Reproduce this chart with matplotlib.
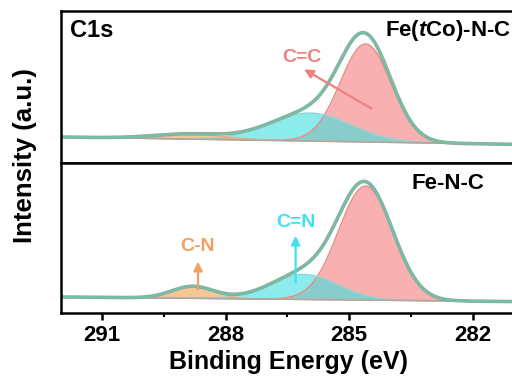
import numpy as np
import matplotlib.pyplot as plt
from matplotlib.ticker import MultipleLocator

plt.rcParams['font.family'] = 'Liberation Sans'
plt.rcParams['font.weight'] = 'bold'
plt.rcParams['mathtext.fontset'] = 'custom'
plt.rcParams['mathtext.it'] = 'Liberation Sans:italic:bold'
plt.rcParams['mathtext.rm'] = 'Liberation Sans:bold'

# fitted C1s components: C=C, C=N, C-N  (center eV, fwhm eV, height a.u.)
peak_names = ['C=C', 'C=N', 'C-N']
peak_colors = ['#f47c7c', '#40e0e0', '#f0a050']
edge_colors = ['#e88888', '#88d8d8', '#e8b080']

tco_centers = [284.6, 285.95, 288.9]
tco_fwhm = [1.45, 2.3, 2.0]
tco_heights = [98, 28, 5]
tco_bg = [26, 18]          # background at 292 eV and 280 eV

fnc_centers = [284.6, 286.1, 288.8]
fnc_fwhm = [1.55, 1.9, 1.2]
fnc_heights = [114, 25, 12]
fnc_bg = [16, 11]

energy = np.linspace(292, 280, 800)


def gauss(x, c, w, h):
    s = w / 2.3548
    return h * np.exp(-(x - c) ** 2 / (2 * s ** 2))


def draw_panel(ax, centers, fwhm, heights, bg, ylim):
    base = np.interp(energy, [280, 292], [bg[1], bg[0]])
    total = base.copy()
    for c, w, h, fc, ec in zip(centers, fwhm, heights, peak_colors, edge_colors):
        comp = gauss(energy, c, w, h)
        ax.fill_between(energy, base, base + comp, color=fc, alpha=0.6, lw=0)
        ax.plot(energy, base + comp, color=ec, lw=1.0)
        total = total + comp
    ax.plot(energy, base, color='#b0a8a0', lw=1.2)
    ax.plot(energy, total, color='#a0a0a0', lw=2.6)
    ax.plot(energy, total, color='#6cc4a4', lw=1.6)
    ax.set_xlim(292, 280)
    ax.set_ylim(*ylim)
    ax.set_yticks([])
    for s in ax.spines.values():
        s.set_linewidth(1.8)


fig = plt.figure(figsize=(5.12, 3.83), dpi=100)
ax1 = fig.add_axes([0.119, 0.5744, 0.965, 0.3969])
ax2 = fig.add_axes([0.119, 0.1828, 0.965, 0.3916])

draw_panel(ax1, tco_centers, tco_fwhm, tco_heights, tco_bg, (0, 152))
draw_panel(ax2, fnc_centers, fnc_fwhm, fnc_heights, fnc_bg, (0, 150))

ax1.tick_params(axis='x', which='both', bottom=False, labelbottom=False)
ax2.xaxis.set_minor_locator(MultipleLocator(1.5))
ax2.set_xticks([291, 288, 285, 282])
ax2.tick_params(axis='x', which='major', direction='out', length=5, width=1.8,
                labelsize=16, pad=4)
ax2.tick_params(axis='x', which='minor', direction='out', length=3, width=1.5)
fig.text(0.564, 0.055, 'Binding Energy (eV)', fontsize=18, fontweight='bold',
         ha='center', va='center')
fig.text(0.049, 0.595, 'Intensity (a.u.)', rotation=90, fontsize=18.5, fontweight='bold',
         ha='center', va='center')

ax1.text(291.25, 132, 'C1s', fontsize=17, ha='center', va='center')
ax1.text(282.6, 132, 'Fe($t$Co)-N-C', fontsize=16, ha='center', va='center')
ax2.text(282.6, 130, 'Fe-N-C', fontsize=16, ha='center', va='center')

# peak labels with arrows
ax1.annotate('', xy=(286.15, 95), xytext=(284.4, 53),
             arrowprops=dict(arrowstyle='-|>', color='#f08080', lw=1.6, mutation_scale=13))
ax1.text(286.15, 105, 'C=C', color='#f08080', fontsize=14, ha='center', va='center')

ax2.annotate('', xy=(286.3, 80), xytext=(286.3, 28),
             arrowprops=dict(arrowstyle='-|>', color='#40e0f0', lw=1.6, mutation_scale=13))
ax2.text(286.3, 90, 'C=N', color='#40e0f0', fontsize=14, ha='center', va='center')

ax2.annotate('', xy=(288.67, 54), xytext=(288.67, 21),
             arrowprops=dict(arrowstyle='-|>', color='#f0a060', lw=1.6, mutation_scale=13))
ax2.text(288.67, 66, 'C-N', color='#f0a060', fontsize=14, ha='center', va='center')

fig.savefig('out.png', dpi=100)
